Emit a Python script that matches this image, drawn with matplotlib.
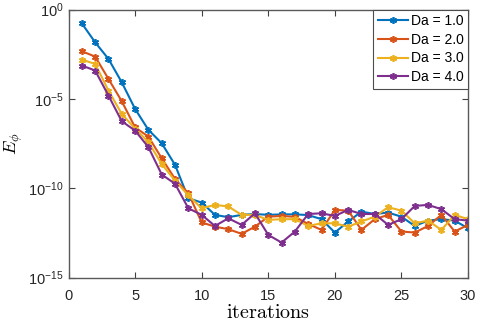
import numpy as np
import matplotlib
matplotlib.use('Agg')
import matplotlib.pyplot as plt
from matplotlib import rcParams

rcParams.update({'font.family': 'Liberation Sans', 'font.size': 10,
                 'mathtext.fontset': 'cm'})

iterations = np.arange(1, 31)

# log10 of E_phi
logE_da1 = [-0.77, -1.83, -2.76, -4.07, -5.56, -6.73, -7.48, -8.69, -10.56, -10.80,
            -11.49, -11.62, -11.49, -11.44, -11.49, -11.46, -11.46, -11.50, -11.73, -12.48,
            -11.86, -11.31, -11.44, -11.36, -11.59, -12.11, -11.81, -11.73, -11.81, -12.24]
logE_da2 = [-2.33, -2.63, -3.88, -5.13, -6.59, -7.11, -8.32, -9.48, -10.28, -11.91,
            -12.15, -12.29, -12.55, -12.15, -11.59, -11.55, -11.60, -12.00, -12.33, -11.21,
            -11.25, -12.33, -11.73, -11.49, -12.42, -12.48, -12.11, -11.49, -12.42, -12.05]
logE_da3 = [-2.80, -3.04, -4.53, -5.84, -6.66, -7.42, -8.64, -9.57, -10.40, -11.12,
            -10.93, -11.02, -11.49, -11.49, -11.77, -11.73, -11.73, -12.11, -11.96, -11.96,
            -12.15, -11.86, -11.59, -11.06, -11.25, -11.96, -11.81, -12.33, -11.49, -11.73]
logE_da4 = [-3.13, -3.41, -4.81, -6.25, -6.77, -7.70, -9.23, -9.75, -11.12, -11.49,
            -12.11, -11.68, -12.05, -11.40, -12.61, -13.04, -12.42, -11.44, -11.40, -11.55,
            -11.21, -11.44, -11.44, -12.05, -11.73, -10.99, -10.93, -11.17, -11.73, -11.81]

series = [logE_da1, logE_da2, logE_da3, logE_da4]
labels = ['Da = 1.0', 'Da = 2.0', 'Da = 3.0', 'Da = 4.0']
colors = ['#0072BD', '#D95319', '#EDB120', '#7E2F8E']

fig = plt.figure(figsize=(4.8, 3.27), dpi=100)
ax = fig.add_axes([68.5/480, 1-277.6/327, 399.5/480, 268/327])

for vals, lab, c in zip(series, labels, colors):
    ax.semilogy(iterations, 10.0**np.array(vals), '-', color=c, lw=1.5,
                marker=(6, 2, 0), ms=5, mew=1.2, label=lab)

ax.set_xlim(0, 30)
ax.set_ylim(1e-15, 1e0)
ax.set_xticks([0, 5, 10, 15, 20, 25, 30])
ax.set_yticks([1e-15, 1e-10, 1e-5, 1e0])
ax.yaxis.set_minor_locator(matplotlib.ticker.NullLocator())
ax.tick_params(direction='in', top=True, right=True, length=4, colors='0.25',
               labelcolor='0.15', labelsize=10.5)
ax.tick_params(axis='x', pad=8)
for s in ax.spines.values():
    s.set_color('0.35')
    s.set_linewidth(1.0)

ax.set_xlabel(r'$\mathrm{iterations}$', fontsize=14.5, labelpad=0)
ax.set_ylabel(r'$E_{\phi}$', fontsize=13, labelpad=2)

leg = ax.legend(loc='upper right', fontsize=10, fancybox=False,
                framealpha=1, edgecolor='0.3', handlelength=2.2, borderpad=0.3,
                labelspacing=0.35, handletextpad=0.2, borderaxespad=0)
leg.get_frame().set_linewidth(0.8)

fig.savefig('out.png', dpi=100)
